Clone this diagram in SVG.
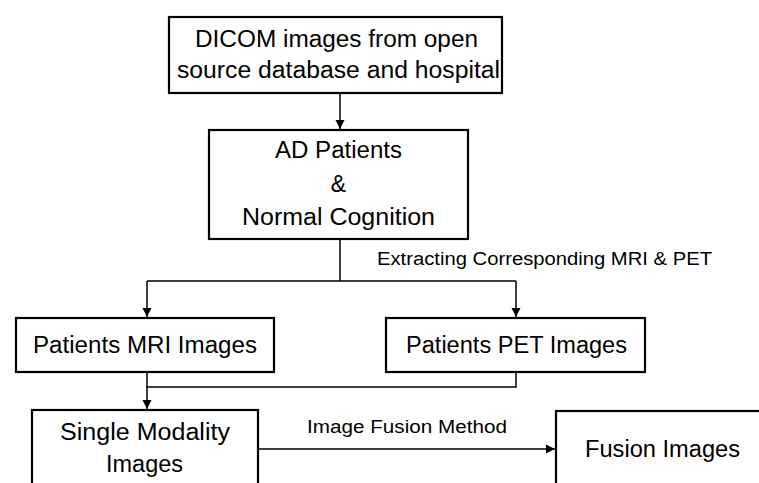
<svg xmlns="http://www.w3.org/2000/svg" width="759" height="483" viewBox="0 0 759 483">
  <defs>
    <style>
      .box { fill: #ffffff; stroke: #000000; stroke-width: 2.2; }
      .lbl { font-family: "Liberation Sans", Arial, sans-serif; font-size: 23px; fill: #000000; }
      .small { font-family: "Liberation Sans", Arial, sans-serif; font-size: 18px; fill: #000000; }
      .wire { fill: none; stroke: #000000; stroke-width: 1.5; }
    </style>
    <marker id="arrow" markerWidth="10" markerHeight="10" refX="9" refY="5" orient="auto" markerUnits="userSpaceOnUse">
      <path d="M0,0.5 L9,5 L0,9.5 z" fill="#000000"/>
    </marker>
  </defs>
  <rect width="759" height="483" fill="#ffffff"/>

  <g id="connectors">
    <path class="wire" d="M340,93 L340,129" marker-end="url(#arrow)"/>
    <path class="wire" d="M340,239 L340,281 M147,281 L516,281"/>
    <path class="wire" d="M147,281 L147,317" marker-end="url(#arrow)"/>
    <path class="wire" d="M516,281 L516,317" marker-end="url(#arrow)"/>
    <path class="wire" d="M147,372 L147,387 L516,387 L516,372"/>
    <path class="wire" d="M147,387 L147,409" marker-end="url(#arrow)"/>
    <path class="wire" d="M258,449 L555,449" marker-end="url(#arrow)"/>
    <text class="small" x="377" y="265" textLength="335" lengthAdjust="spacingAndGlyphs">Extracting Corresponding MRI &amp; PET</text>
    <text class="small" x="307" y="433" textLength="200" lengthAdjust="spacingAndGlyphs">Image Fusion Method</text>
  </g>

  <g id="dicom">
    <rect class="box" x="169" y="17" width="333" height="76"/>
    <text class="lbl" x="195" y="47" textLength="283" lengthAdjust="spacingAndGlyphs">DICOM images from open</text>
    <text class="lbl" x="177" y="78" textLength="323" lengthAdjust="spacingAndGlyphs">source database and hospital</text>
  </g>

  <g id="cohort">
    <rect class="box" x="209" y="130" width="259" height="109"/>
    <text class="lbl" x="275" y="158" textLength="127" lengthAdjust="spacingAndGlyphs">AD Patients</text>
    <text class="lbl" x="338.5" y="192" text-anchor="middle">&amp;</text>
    <text class="lbl" x="242" y="225" textLength="193" lengthAdjust="spacingAndGlyphs">Normal Cognition</text>
  </g>

  <g id="mri">
    <rect class="box" x="16" y="318" width="258" height="54"/>
    <text class="lbl" x="33" y="353" textLength="224" lengthAdjust="spacingAndGlyphs">Patients MRI Images</text>
  </g>

  <g id="pet">
    <rect class="box" x="386" y="318" width="259" height="54"/>
    <text class="lbl" x="406" y="353" textLength="221" lengthAdjust="spacingAndGlyphs">Patients PET Images</text>
  </g>

  <g id="single">
    <rect class="box" x="32" y="410" width="226" height="80"/>
    <text class="lbl" x="60" y="440" textLength="170" lengthAdjust="spacingAndGlyphs">Single Modality</text>
    <text class="lbl" x="106" y="472" textLength="77" lengthAdjust="spacingAndGlyphs">Images</text>
  </g>

  <g id="fusion">
    <rect class="box" x="556" y="411" width="220" height="80"/>
    <text class="lbl" x="585" y="457" textLength="155" lengthAdjust="spacingAndGlyphs">Fusion Images</text>
  </g>
</svg>
